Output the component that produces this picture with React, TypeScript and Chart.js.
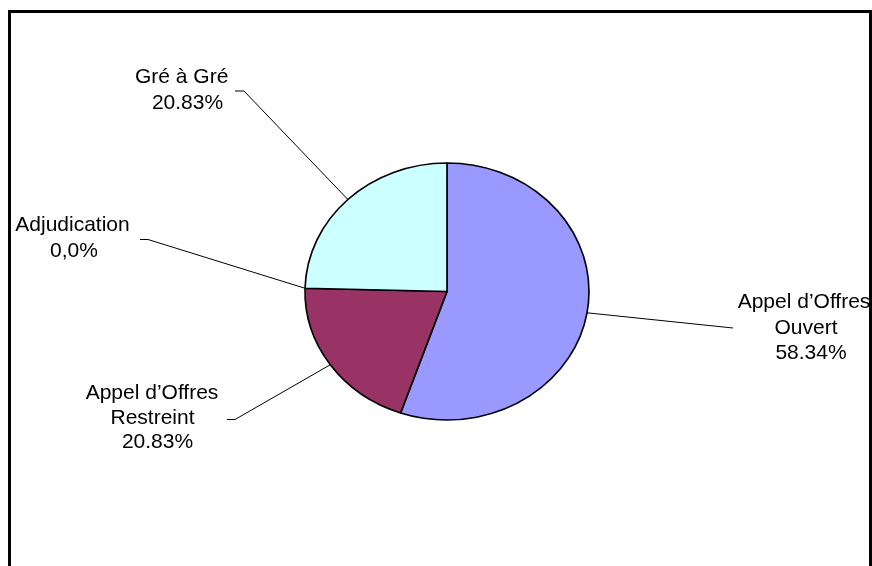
import React, { useEffect, useRef } from "react";
import { Chart, registerables } from "chart.js";

Chart.register(...registerables);

const categories = ["Appel d’Offres Ouvert", "Appel d’Offres Restreint", "Adjudication", "Gré à Gré"];
const sliceValues = [55.3, 20.1, 0, 24.6];
const sliceColors = ["#9999FF", "#993366", "#FFFFCC", "#CCFFFF"];
const labelLines = [
  ["Appel d’Offres", "Ouvert", "58.34%"],
  ["Appel d’Offres", "Restreint", "20.83%"],
  ["Adjudication", "0,0%"],
  ["Gré à Gré", "20.83%"],
];

// layout of labels (line centres) and leader-line elbows
const labelPos: { lines: [number, number][]; elbow: [number, number][] }[] = [
  { lines: [[804, 302], [806, 328], [811, 353]], elbow: [[733, 328]] },
  { lines: [[152, 393], [152.5, 418], [157.5, 442]], elbow: [[235, 419.5], [227, 419.5]] },
  { lines: [[72.5, 225], [74, 251.5]], elbow: [[148, 239.5], [140, 239.5]] },
  { lines: [[181.7, 77], [187.5, 103]], elbow: [[244, 91], [235, 91]] },
];

const SCALE_X = 1.105;

export default function App() {
  const ref = useRef<HTMLCanvasElement | null>(null);

  useEffect(() => {
    if (!ref.current) return;

    const ellipsePlugin = {
      id: "ellipse",
      beforeDatasetsDraw(chart: any) {
        const arc = chart.getDatasetMeta(0).data[0];
        const ctx = chart.ctx;
        ctx.save();
        ctx.translate(arc.x, arc.y);
        ctx.scale(SCALE_X, 1);
        ctx.translate(-arc.x, -arc.y);
      },
      afterDatasetsDraw(chart: any) {
        chart.ctx.restore();
      },
    };

    const labelPlugin = {
      id: "labels",
      afterDraw(chart: any) {
        const ctx = chart.ctx;
        const meta = chart.getDatasetMeta(0);
        ctx.save();
        // frame
        ctx.fillStyle = "#000";
        ctx.fillRect(8, 10, 864, 3);
        ctx.fillRect(8, 10, 3, 556);
        ctx.fillRect(869, 10, 3, 556);

        meta.data.forEach((arc: any, i: number) => {
          const a = (arc.startAngle + arc.endAngle) / 2;
          const r = arc.outerRadius;
          const px = arc.x + SCALE_X * r * Math.cos(a);
          const py = arc.y + r * Math.sin(a);
          const lp = labelPos[i];
          ctx.strokeStyle = "#000";
          ctx.lineWidth = 1;
          ctx.beginPath();
          ctx.moveTo(px, py);
          lp.elbow.forEach((p) => ctx.lineTo(p[0], p[1]));
          ctx.stroke();
          ctx.fillStyle = "#000";
          ctx.font = "21px 'Liberation Sans', Arial, sans-serif";
          ctx.textAlign = "center";
          ctx.textBaseline = "middle";
          labelLines[i].forEach((t, j) => {
            ctx.fillText(t, lp.lines[j][0], lp.lines[j][1]);
          });
        });
        ctx.restore();
      },
    };

    const chart = new Chart(ref.current, {
      type: "pie",
      data: {
        labels: categories,
        datasets: [
          {
            data: sliceValues,
            backgroundColor: sliceColors,
            borderColor: "#000",
            borderWidth: 1.5,
          },
        ],
      },
      options: {
        animation: false,
        responsive: false,
        radius: 128.5,
        layout: { padding: { left: 22, right: 0, top: 17, bottom: 0 } },
        plugins: {
          legend: { display: false },
          tooltip: { enabled: false },
        },
      } as any,
      plugins: [ellipsePlugin, labelPlugin],
    });
    return () => chart.destroy();
  }, []);

  return (
    <div style={{ position: "fixed", left: 0, top: 0, width: 872, height: 566, background: "#fff" }}>
      <canvas ref={ref} width={872} height={566} style={{ display: "block" }} />
    </div>
  );
}
